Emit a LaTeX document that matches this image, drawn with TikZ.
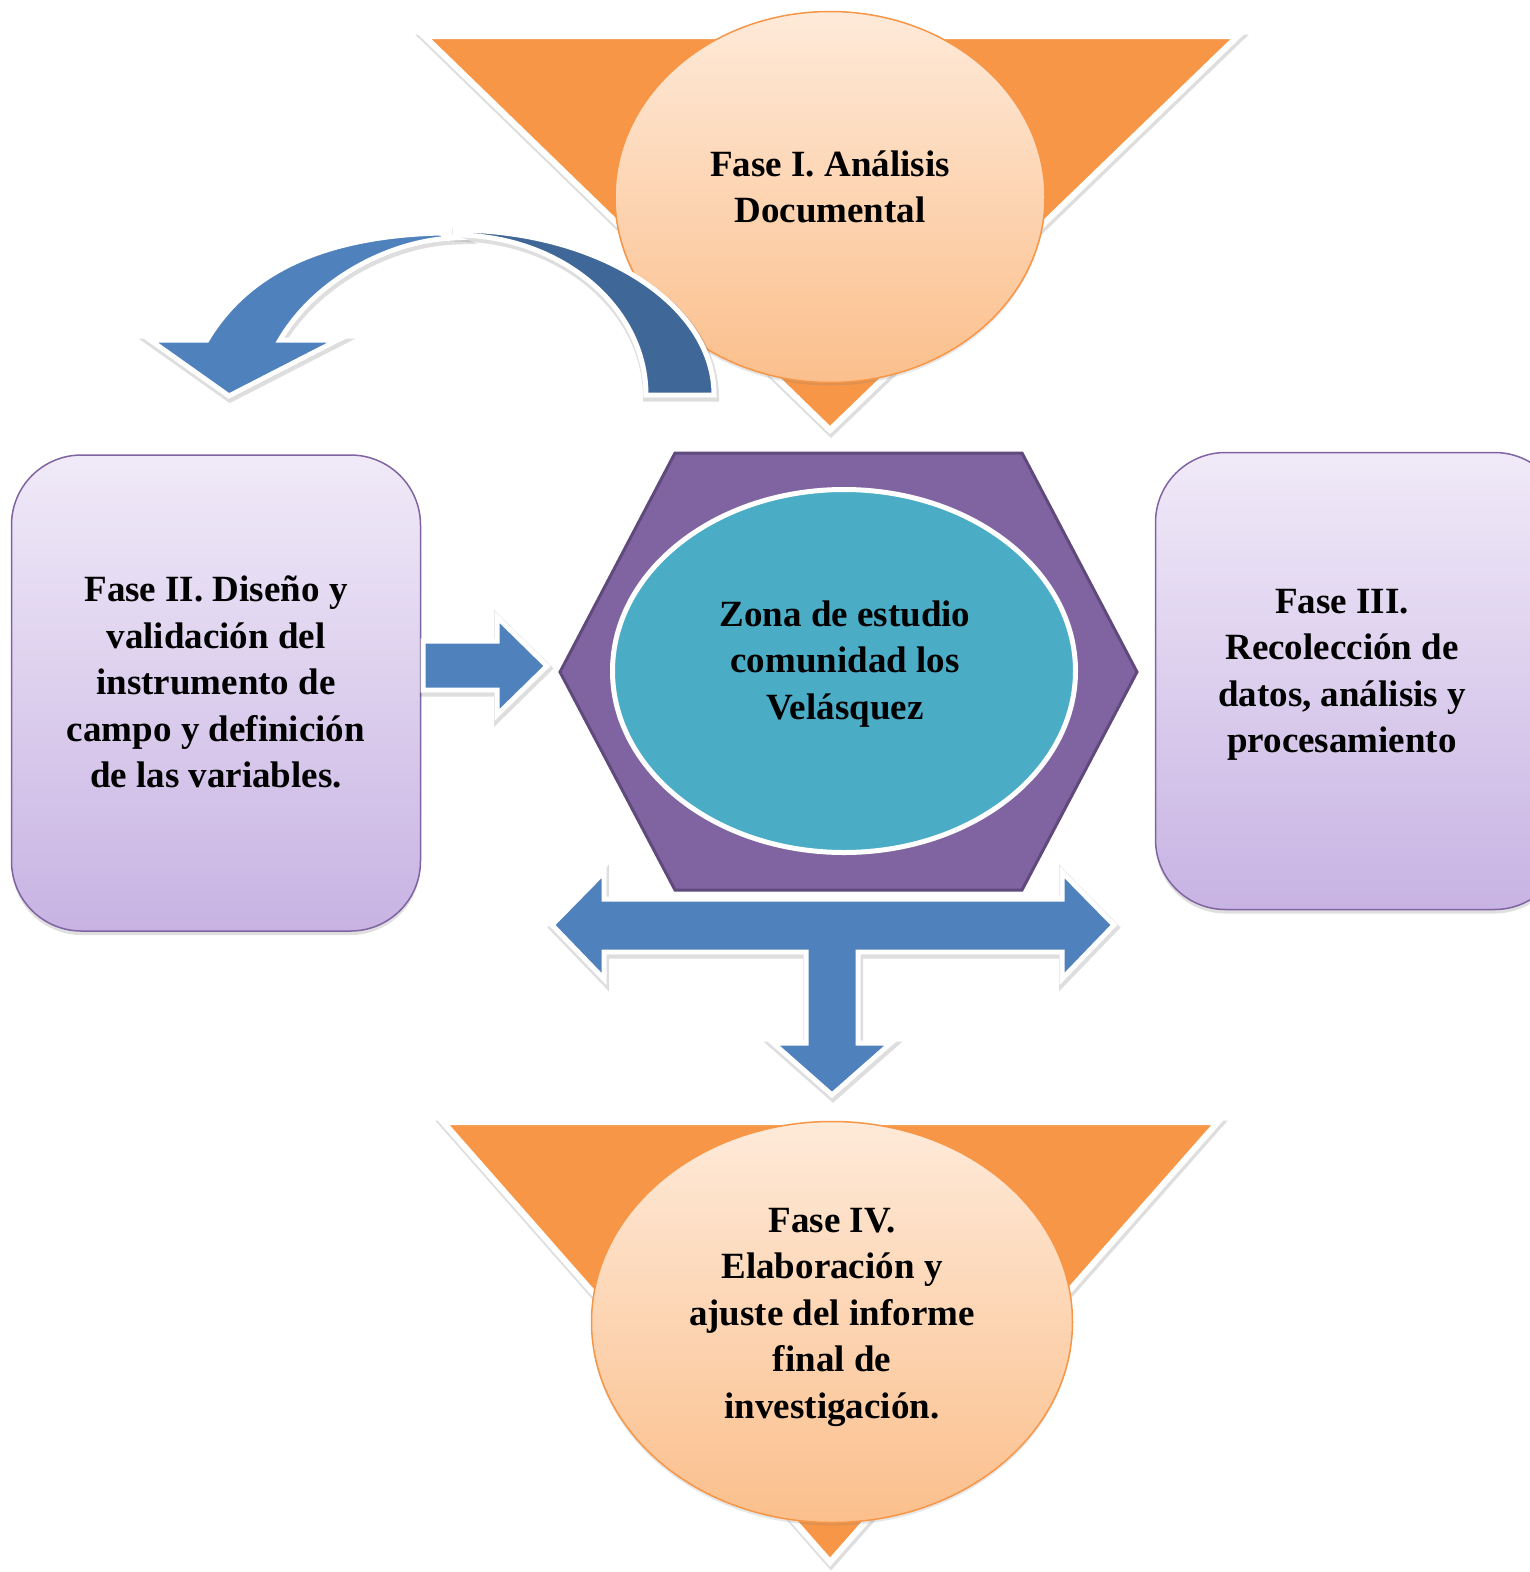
\documentclass[tikz,border=0pt]{standalone}
\usepackage{fontspec}
\setmainfont{Liberation Serif}
\usetikzlibrary{shapes.geometric}
\usetikzlibrary{shadows}

\definecolor{naranja}{HTML}{F79646}
\definecolor{durazno1}{HTML}{FEEAD9}
\definecolor{durazno2}{HTML}{FBBF8C}
\definecolor{azul}{HTML}{4F81BD}
\definecolor{azuloscuro}{HTML}{3F6797}
\definecolor{morado}{HTML}{8064A2}
\definecolor{moradoborde}{HTML}{5F4A7B}
\definecolor{lila1}{HTML}{F0EAF8}
\definecolor{lila2}{HTML}{C8B3E3}
\definecolor{turquesa}{HTML}{4BACC6}

\tikzset{
  fase/.style={font=\fontsize{37}{46.5}\selectfont\bfseries, align=center},
  halo/.style={drop shadow={shadow xshift=1pt, shadow yshift=-2.5pt, opacity=.13, fill=black,
    draw=black, line width=8pt, line join=miter}},
  tri/.style={fill=naranja, draw=white, line width=6pt, line join=miter, halo},
  ovalo/.style={ellipse, draw=naranja, line width=1.5pt, top color=durazno1, bottom color=durazno2, inner sep=0pt,
    drop shadow={opacity=.2, shadow xshift=0pt, shadow yshift=-3pt}},
  caja/.style={rectangle, rounded corners=70pt, draw=morado, line width=1.5pt, top color=lila1, bottom color=lila2,
    inner sep=0pt, drop shadow={opacity=.25, shadow xshift=0pt, shadow yshift=-4pt}},
  flecha/.style={fill=azul, draw=white, line width=5pt, line join=miter, halo},
}

\begin{document}
\begin{tikzpicture}[x=1pt,y=-1pt]
  \useasboundingbox (0,0) rectangle (1530,1572);
  \clip (0,0) rectangle (1530,1572);

  \filldraw[tri] (424,36) -- (1238,36) -- (830,430) -- cycle;
  \node[ovalo, minimum width=430pt, minimum height=371pt] (doc) at (830,197) {};
  \node[fase] (doctxt) at (830,187) {Fase I. Análisis\\Documental};

  \filldraw[flecha, fill=azuloscuro] (714,395) arc[start angle=0, end angle=-90, x radius=259, y radius=165]
    -- (455,235) arc[start angle=-90, end angle=0, x radius=191, y radius=160] -- cycle;
  \filldraw[flecha] (207,340) .. controls (250,268) and (330,236) .. (440,233) -- (455,238)
    .. controls (390,240) and (315,280) .. (280,340) -- (338,340) -- (229,396) -- (150,340) -- cycle;

  \node[caja, minimum width=409pt, minimum height=476pt] (diseno) at (216,693) {};
  \node[fase] (disenotxt) at (216,682) {Fase II. Diseño y\\validación del\\instrumento de\\campo y definición\\de las variables.};

  \node[caja, minimum width=409pt, minimum height=457pt] (datos) at (1360,681) {};
  \node[fase] (datostxt) at (1342,675) {Fase III.\\Recolección de\\datos, análisis y\\procesamiento};

  \filldraw[flecha] (423,641) -- (497,641) -- (497,617) -- (547,666) -- (497,715) -- (497,690) -- (423,690) -- cycle;

  \filldraw[fill=morado, draw=moradoborde, line width=3pt] (675,453) -- (1022,453) -- (1137,672)
    -- (1022,890) -- (675,890) -- (560,672) -- cycle;
  \node[ellipse, fill=turquesa, draw=white, line width=5pt, minimum width=463pt, minimum height=363pt,
    drop shadow={opacity=.15, shadow xshift=1pt, shadow yshift=-3pt}] (zona) at (844,671) {};
  \node[fase] (zonatxt) at (845,664) {Zona de estudio\\comunidad los\\Velásquez};

  \filldraw[flecha] (552,925) -- (604,872) -- (604,899) -- (1062,899) -- (1062,872) -- (1114,925)
    -- (1062,979) -- (1062,952) -- (858,952) -- (858,1043) -- (891,1043) -- (832,1095)
    -- (773,1043) -- (806,1043) -- (806,952) -- (604,952) -- (604,979) -- cycle;

  \filldraw[tri] (443,1122) -- (1218,1122) -- (830,1562) -- cycle;
  \node[ovalo, minimum width=481pt, minimum height=401pt] (informe) at (832,1322) {};
  \node[fase] (informetxt) at (832,1317) {Fase IV.\\Elaboración y\\ajuste del informe\\final de\\investigación.};
\end{tikzpicture}
\end{document}
